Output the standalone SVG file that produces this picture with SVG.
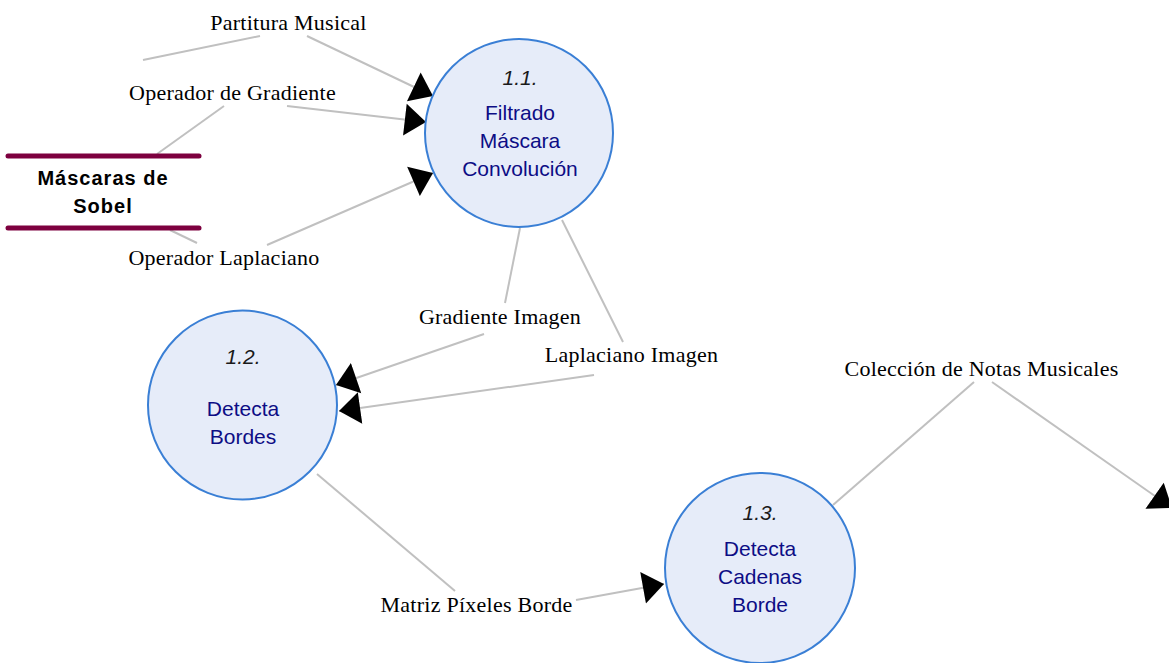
<svg xmlns="http://www.w3.org/2000/svg" width="1169" height="663" viewBox="0 0 1169 663">
<style>
.proc{fill:#e6ecf9;stroke:#3a7fd5;stroke-width:2}
.num{font-family:"Liberation Sans",Arial,sans-serif;font-size:21px;font-style:italic;fill:#1a1a1a;text-anchor:middle}
.ptxt{font-family:"Liberation Sans",Arial,sans-serif;font-size:21px;fill:#0d0d85;text-anchor:middle}
.store{stroke:#7d003f;stroke-width:5;stroke-linecap:round;fill:none}
.stxt{font-family:"Liberation Sans",Arial,sans-serif;font-size:20px;font-weight:bold;fill:#000;text-anchor:middle;letter-spacing:1px}
.flow{stroke:#c0c0c0;stroke-width:2;fill:none}
.lbl{font-family:"Liberation Serif","Times New Roman",serif;font-size:22px;fill:#000;text-anchor:middle;letter-spacing:0.25px}
</style>
<defs>
<marker id="arr" markerUnits="userSpaceOnUse" markerWidth="22" markerHeight="34" viewBox="0 -16 20 32" refX="20" refY="0" orient="auto">
<path d="M0,-15 L20,0 L0,15 Z" fill="#000"/>
</marker>
</defs>
<rect width="1169" height="663" fill="#fff"/>
<g id="connectors">
<line class="flow" x1="143" y1="60" x2="260" y2="36"/>
<line class="flow" x1="307" y1="36" x2="433" y2="96" marker-end="url(#arr)"/>
<line class="flow" x1="157" y1="154" x2="224" y2="106"/>
<line class="flow" x1="287" y1="106" x2="426" y2="122" marker-end="url(#arr)"/>
<line class="flow" x1="170" y1="230" x2="197" y2="243"/>
<line class="flow" x1="267" y1="245" x2="433" y2="173" marker-end="url(#arr)"/>
<line class="flow" x1="520" y1="228" x2="505" y2="303"/>
<line class="flow" x1="484" y1="334" x2="336" y2="385" marker-end="url(#arr)"/>
<line class="flow" x1="562" y1="220" x2="623" y2="342"/>
<line class="flow" x1="594" y1="375" x2="339" y2="411" marker-end="url(#arr)"/>
<line class="flow" x1="317" y1="474" x2="455" y2="591"/>
<line class="flow" x1="576" y1="600" x2="664" y2="584" marker-end="url(#arr)"/>
<line class="flow" x1="833" y1="505" x2="974" y2="382"/>
<line class="flow" x1="992" y1="382" x2="1172" y2="508" marker-end="url(#arr)"/>
<text class="lbl" x="288.5" y="30">Partitura Musical</text>
<text class="lbl" x="232.5" y="100">Operador de Gradiente</text>
<text class="lbl" x="224" y="265">Operador Laplaciano</text>
<text class="lbl" x="500" y="324">Gradiente Imagen</text>
<text class="lbl" x="631.5" y="362">Laplaciano Imagen</text>
<text class="lbl" x="476.5" y="612">Matriz Píxeles Borde</text>
<text class="lbl" x="981.5" y="376">Colección de Notas Musicales</text>
</g>
<g id="store-sobel">
<line class="store" x1="8" y1="156" x2="199" y2="156"/>
<line class="store" x1="8" y1="228" x2="199" y2="228"/>
<text class="stxt" x="103" y="185">Máscaras de</text>
<text class="stxt" x="103" y="213">Sobel</text>
</g>
<g id="p1-1">
<circle class="proc" cx="519" cy="133" r="94"/>
<text class="num" x="520" y="85">1.1.</text>
<text class="ptxt" x="520" y="120">Filtrado</text>
<text class="ptxt" x="520" y="148">Máscara</text>
<text class="ptxt" x="520" y="176">Convolución</text>
</g>
<g id="p1-2">
<circle class="proc" cx="242.5" cy="405" r="94.5"/>
<text class="num" x="243" y="364">1.2.</text>
<text class="ptxt" x="243" y="416">Detecta</text>
<text class="ptxt" x="243" y="444">Bordes</text>
</g>
<g id="p1-3">
<circle class="proc" cx="760" cy="568" r="95"/>
<text class="num" x="760" y="520">1.3.</text>
<text class="ptxt" x="760" y="556">Detecta</text>
<text class="ptxt" x="760" y="584">Cadenas</text>
<text class="ptxt" x="760" y="612">Borde</text>
</g>
</svg>
